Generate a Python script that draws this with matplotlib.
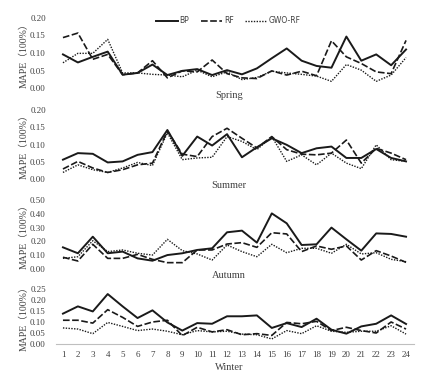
import matplotlib
matplotlib.use("Agg")
import matplotlib.pyplot as plt
import numpy as np

hours = list(range(1, 25))
seasons = ["Spring", "Summer", "Autumn", "Winter"]

bp_spring = [0.096, 0.073, 0.089, 0.104, 0.038, 0.043, 0.067, 0.037, 0.049, 0.054, 0.037, 0.051,
             0.039, 0.056, 0.085, 0.113, 0.078, 0.063, 0.058, 0.147, 0.078, 0.096, 0.065, 0.110]
rf_spring = [0.144, 0.157, 0.082, 0.096, 0.038, 0.043, 0.078, 0.029, 0.049, 0.046, 0.080, 0.041,
             0.029, 0.027, 0.049, 0.037, 0.048, 0.035, 0.135, 0.089, 0.070, 0.046, 0.041, 0.136]
gwo_spring = [0.072, 0.099, 0.099, 0.139, 0.043, 0.043, 0.039, 0.037, 0.032, 0.051, 0.032, 0.046,
              0.024, 0.030, 0.048, 0.043, 0.039, 0.034, 0.019, 0.067, 0.051, 0.019, 0.037, 0.087]

bp_summer = [0.056, 0.075, 0.073, 0.048, 0.051, 0.070, 0.078, 0.142, 0.067, 0.123, 0.097, 0.130,
             0.063, 0.092, 0.118, 0.099, 0.075, 0.089, 0.094, 0.061, 0.061, 0.087, 0.061, 0.051]
rf_summer = [0.029, 0.051, 0.032, 0.019, 0.027, 0.041, 0.046, 0.139, 0.072, 0.065, 0.123, 0.147,
             0.118, 0.090, 0.123, 0.085, 0.072, 0.070, 0.075, 0.113, 0.046, 0.089, 0.075, 0.056]
gwo_summer = [0.019, 0.041, 0.027, 0.019, 0.032, 0.048, 0.039, 0.134, 0.056, 0.061, 0.063, 0.123,
              0.109, 0.085, 0.123, 0.051, 0.070, 0.041, 0.075, 0.046, 0.030, 0.099, 0.056, 0.051]

bp_autumn = [0.157, 0.114, 0.234, 0.114, 0.126, 0.077, 0.060, 0.101, 0.114, 0.138, 0.150, 0.266,
             0.278, 0.191, 0.403, 0.331, 0.174, 0.179, 0.300, 0.215, 0.133, 0.258, 0.254, 0.234]
rf_autumn = [0.085, 0.058, 0.179, 0.077, 0.077, 0.106, 0.070, 0.046, 0.046, 0.138, 0.138, 0.181,
             0.191, 0.157, 0.263, 0.254, 0.126, 0.167, 0.143, 0.167, 0.065, 0.133, 0.094, 0.048]
gwo_autumn = [0.077, 0.089, 0.205, 0.126, 0.138, 0.114, 0.101, 0.215, 0.133, 0.109, 0.065, 0.174,
              0.126, 0.089, 0.179, 0.118, 0.150, 0.150, 0.114, 0.179, 0.109, 0.118, 0.070, 0.053]

bp_winter = [0.138, 0.171, 0.148, 0.227, 0.171, 0.118, 0.153, 0.098, 0.061, 0.095, 0.092, 0.126,
             0.126, 0.130, 0.073, 0.095, 0.077, 0.115, 0.065, 0.047, 0.080, 0.092, 0.130, 0.091]
rf_winter = [0.108, 0.108, 0.095, 0.156, 0.121, 0.080, 0.100, 0.108, 0.038, 0.076, 0.055, 0.065,
             0.042, 0.047, 0.039, 0.098, 0.092, 0.103, 0.061, 0.076, 0.061, 0.050, 0.100, 0.068]
gwo_winter = [0.073, 0.068, 0.047, 0.098, 0.080, 0.061, 0.068, 0.058, 0.042, 0.061, 0.055, 0.058,
              0.045, 0.042, 0.023, 0.061, 0.047, 0.083, 0.058, 0.053, 0.058, 0.058, 0.083, 0.045]

data = {
    "Spring": (bp_spring, rf_spring, gwo_spring),
    "Summer": (bp_summer, rf_summer, gwo_summer),
    "Autumn": (bp_autumn, rf_autumn, gwo_autumn),
    "Winter": (bp_winter, rf_winter, gwo_winter),
}
yticks = {
    "Spring": [0.00, 0.05, 0.10, 0.15, 0.20],
    "Summer": [0.00, 0.05, 0.10, 0.15, 0.20],
    "Autumn": [0.00, 0.10, 0.20, 0.30, 0.40, 0.50],
    "Winter": [0.00, 0.05, 0.10, 0.15, 0.20, 0.25],
}

W, H = 445, 379
fig = plt.figure(figsize=(W / 100, H / 100), dpi=100)

# axes pixel extents (top, bottom)
extents = {
    "Spring": (18, 88),
    "Summer": (110, 179),
    "Autumn": (200, 269),
    "Winter": (289, 344),
}
title_y = {"Spring": 95, "Summer": 185, "Autumn": 276, "Winter": 367}
left_px, right_px = 55.5, 413.5

serif = ["Liberation Serif", "Noto Sans CJK SC"]
col = "#1a1a1a"
txt = "#404040"

for s in seasons:
    top, bot = extents[s]
    ax = fig.add_axes([left_px / W, 1 - bot / H, (right_px - left_px) / W, (bot - top) / H])
    bp, rf, gwo = data[s]
    l1, = ax.plot(hours, bp, color=col, lw=1.4, ls="-", label="BP")
    l2, = ax.plot(hours, rf, color=col, lw=1.2, ls=(0, (4, 1.5)), label="RF")
    l3, = ax.plot(hours, gwo, color=col, lw=1.0, ls=(0, (1, 1)), label="GWO-RF")
    ax.set_xlim(0.5, 24.5)
    yt = yticks[s]
    ax.set_ylim(yt[0], yt[-1])
    ax.set_yticks(yt)
    ax.set_yticklabels([f"{v:.2f}" for v in yt], fontfamily=serif, fontsize=6.5, color=txt)
    for sp in ax.spines.values():
        sp.set_visible(False)
    ax.tick_params(axis="both", length=0)
    ax.tick_params(axis="y", pad=7)
    ax.set_ylabel("MAPE（100%）", fontfamily=serif, fontsize=7, color=txt, labelpad=1)
    if s == "Winter":
        ax.spines["bottom"].set_visible(True)
        ax.spines["bottom"].set_color("#bfbfbf")
        ax.spines["bottom"].set_linewidth(0.8)
        ax.set_xticks(hours)
        ax.set_xticklabels([str(h) for h in hours], fontfamily=serif, fontsize=6.5, color=txt)
        ax.tick_params(axis="x", pad=5)
    else:
        ax.set_xticks([])
    fig.text(229 / W, 1 - title_y[s] / H, s, ha="center", va="center",
             fontfamily=serif, fontsize=7.5, color=txt)
    if s == "Spring":
        leg = ax.legend(handles=[l1, l2, l3], loc="center", ncol=3, frameon=False,
                        bbox_to_anchor=(0.483, 0.96), handlelength=2.8,
                        columnspacing=1.5, handletextpad=0.25,
                        prop={"family": "DejaVu Sans", "size": 5.5})
        for t in leg.get_texts():
            t.set_color(txt)

fig.savefig("out.png", dpi=100)
